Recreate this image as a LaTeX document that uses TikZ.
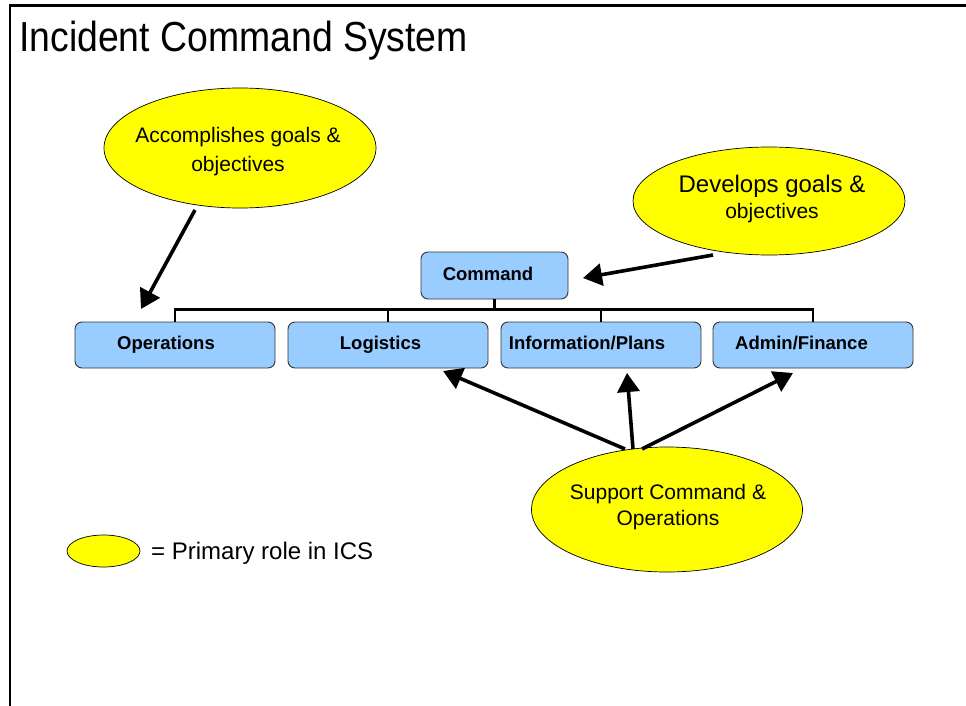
\documentclass[tikz,border=0pt]{standalone}
\usepackage{fontspec}
\setmainfont{Liberation Sans}
\newfontfamily\titlefont[FakeStretch=0.89]{Liberation Sans}
\usetikzlibrary{shapes.geometric,arrows.meta}
\definecolor{boxblue}{HTML}{99CCFF}
\definecolor{ellyellow}{HTML}{FFFF00}
\begin{document}
\begin{tikzpicture}[x=1pt,y=-1pt,
  box/.style={draw=black!80, line width=0.9pt, fill=boxblue, rounded corners=7pt,
    minimum width=200pt, minimum height=46pt, inner sep=0pt},
  boxlabel/.style={anchor=base, font=\fontsize{18.5}{22}\selectfont\bfseries, inner sep=0pt},
  role/.style={ellipse, draw=black, line width=0.7pt, fill=ellyellow, inner sep=0pt},
  roletext/.style={align=center, inner sep=0pt},
  tree/.style={line width=2.8pt},
  pointer/.style={line width=3.6pt, -{Triangle[length=19pt,width=22pt]}},
  frame/.style={line width=2.4pt, line join=miter}]
\useasboundingbox (0,0) rectangle (966,706);
\draw[frame] (10.2,706) -- (10.2,5.7) -- (966,5.7);

\node[anchor=base west, inner sep=0pt, font=\titlefont\fontsize{42}{46}\selectfont] (title) at (19,52) {Incident Command System};

% boxes
\node[box, minimum width=147pt, minimum height=47pt] (cmd) at (494.5,275.5) {};
\node[box] (ops) at (175,345) {};
\node[box] (log) at (388,345) {};
\node[box] (inf) at (601,345) {};
\node[box] (adm) at (813,345) {};

\draw[tree] (ops.north) -- ++(0,-12) -| (adm.north);
\draw[tree] (log.north) -- ++(0,-12);
\draw[tree] (inf.north) -- ++(0,-12);
\draw[tree] (cmd.south) -- ++(0,11);

\node[boxlabel] (cmdt) at (488,280) {Command};
\node[boxlabel] (opst) at (166,349.3) {Operations};
\node[boxlabel] (logt) at (380.5,349.3) {Logistics};
\node[boxlabel] (inft) at (587,349.3) {Information/Plans};
\node[boxlabel] (admt) at (801.5,349.3) {Admin/Finance};

% ellipses
\node[role, minimum width=272pt, minimum height=120pt] (acc) at (240,148) {};
\node[role, minimum width=272pt, minimum height=108pt] (dev) at (769,201) {};
\node[role, minimum width=271pt, minimum height=125pt] (sup) at (667,509.5) {};
\node[role, minimum width=73pt, minimum height=32pt] (leg) at (103.5,551) {};

\node[roletext, font=\fontsize{21}{29}\selectfont] (acct) at (238,152) {Accomplishes goals \&\\objectives};
\node[roletext, font=\fontsize{24}{25.5}\selectfont] (devt) at (772,199) {Develops goals \&\\{\fontsize{21}{25.5}\selectfont objectives}};
\node[roletext, font=\fontsize{21}{26}\selectfont] (supt) at (668,507.5) {Support Command \&\\Operations};
\node[anchor=base west, inner sep=0pt, font=\fontsize{24}{28}\selectfont] (legt) at (151,559.3) {= Primary role in ICS};

% arrows
\coordinate (a1s) at (195,210); \coordinate (a1e) at (141,309);
\coordinate (a2s) at (713,255); \coordinate (a2e) at (583,278);
\coordinate (a3s) at (625,449); \coordinate (a3e) at (443,371);
\coordinate (a4s) at (633,449); \coordinate (a4e) at (627,373);
\coordinate (a5s) at (642,449); \coordinate (a5e) at (793,373);
\draw[pointer] (a1s) -- (a1e);
\draw[pointer] (a2s) -- (a2e);
\draw[pointer] (a3s) -- (a3e);
\draw[pointer] (a4s) -- (a4e);
\draw[pointer] (a5s) -- (a5e);
\end{tikzpicture}
\end{document}
